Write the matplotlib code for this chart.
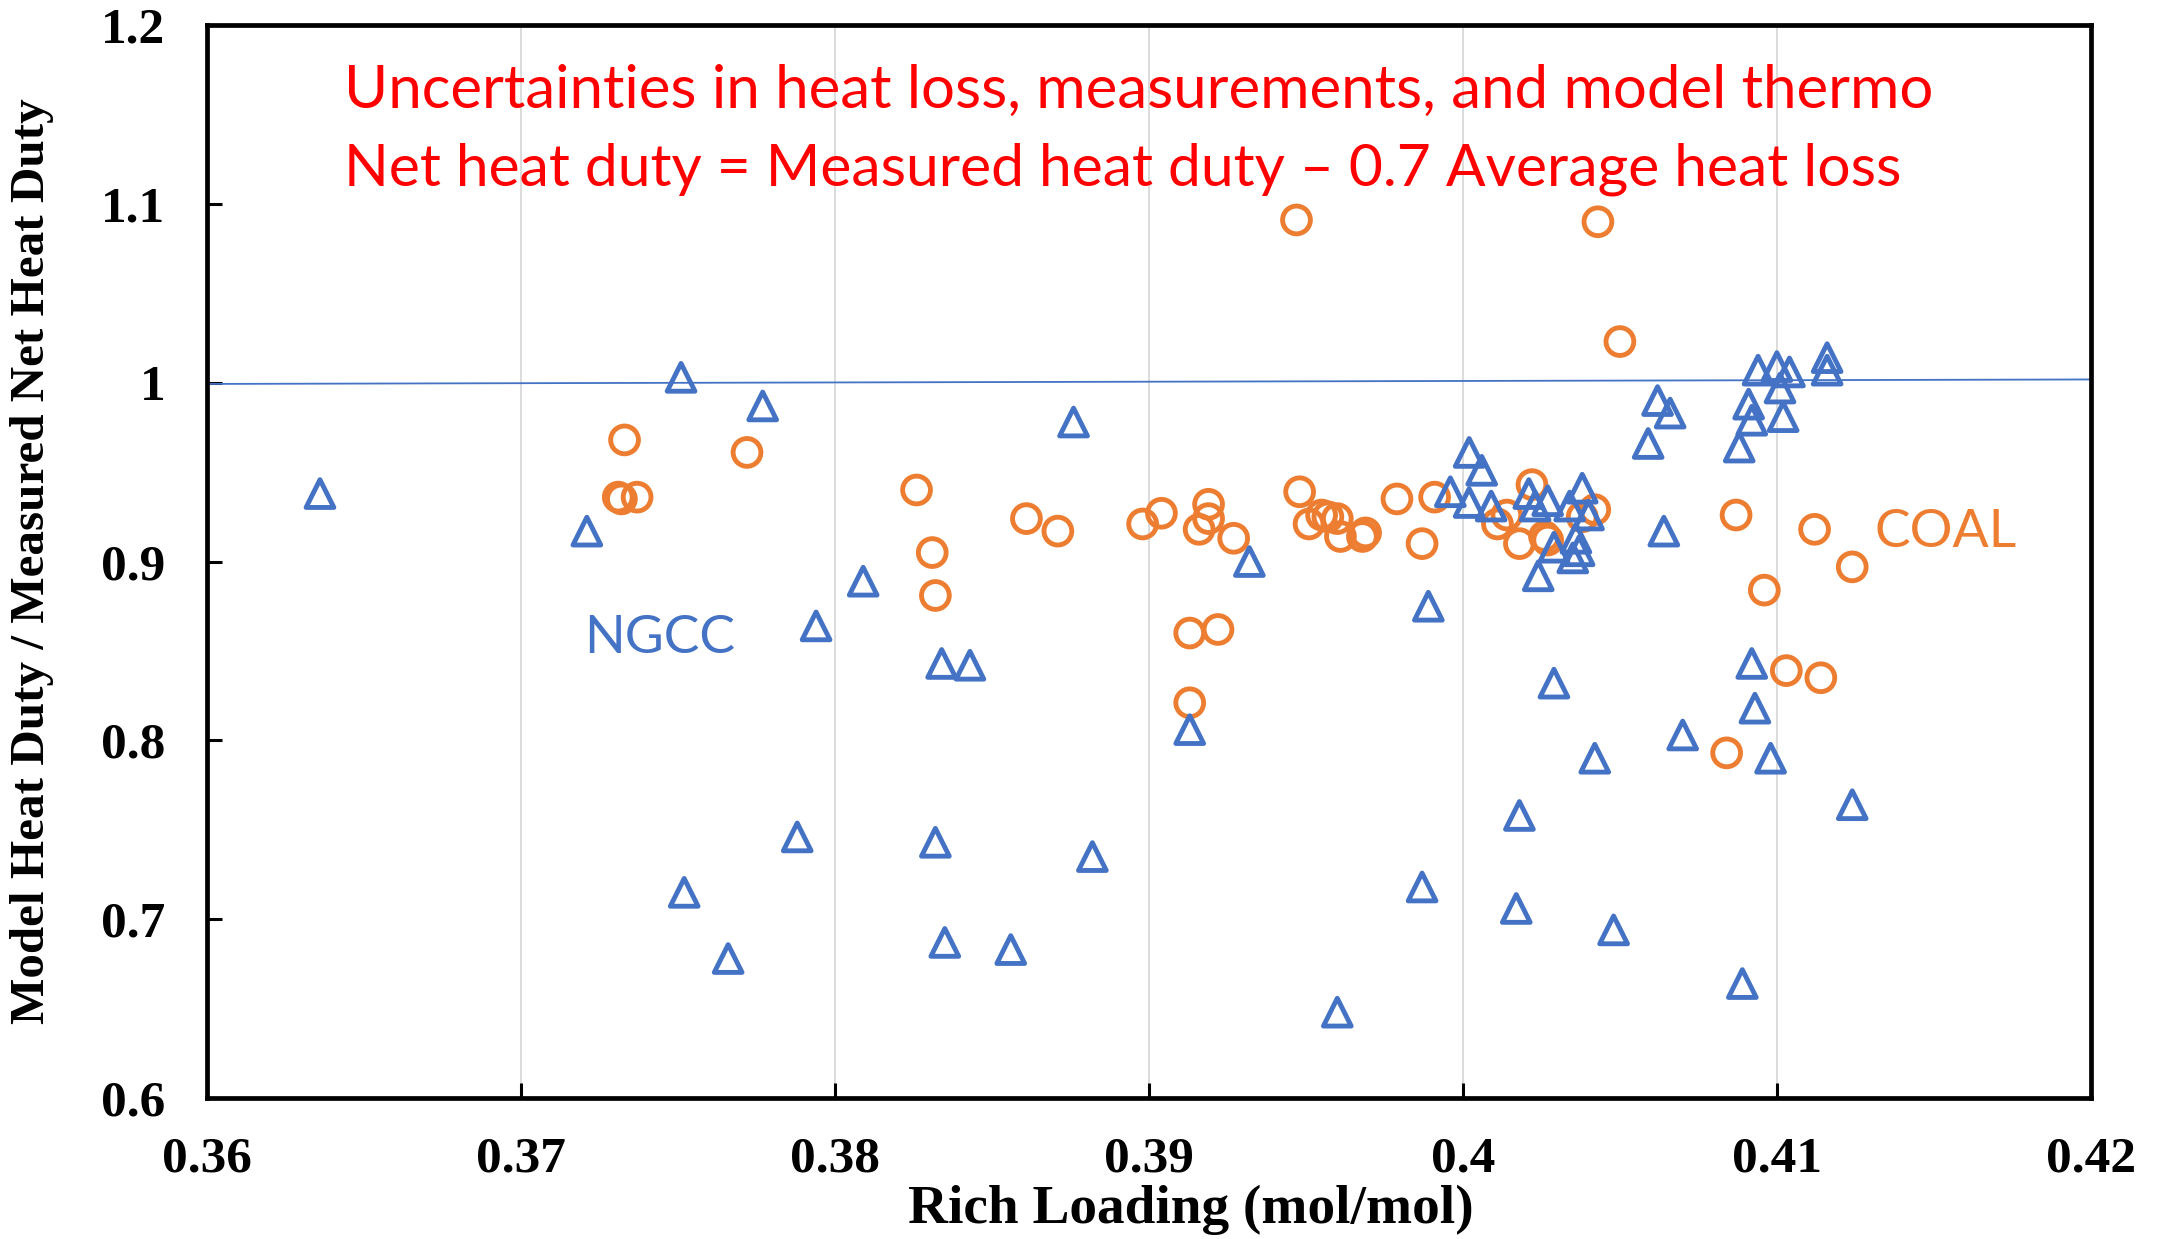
import numpy as np
import matplotlib
matplotlib.use('Agg')
import matplotlib.pyplot as plt
from matplotlib.ticker import FuncFormatter, MultipleLocator

# NGCC campaign points (rich loading, model / measured net heat duty)
ngcc_loading = [0.3636, 0.3721, 0.3751, 0.3752, 0.3766, 0.3777, 0.3788, 0.3794, 0.3809,
                0.3832, 0.3834, 0.3843, 0.3835, 0.3856, 0.3876, 0.3882, 0.3913, 0.3932,
                0.3960, 0.3987, 0.3989, 0.3996, 0.4002, 0.4006, 0.4002, 0.4009, 0.4021,
                0.4023, 0.4027, 0.4034, 0.4038, 0.4040, 0.4029, 0.4036, 0.4037, 0.4035,
                0.4024, 0.4029, 0.4018, 0.4017, 0.4042, 0.4048, 0.4059, 0.4062, 0.4066,
                0.4064, 0.4070, 0.4088, 0.4089, 0.4091, 0.4092, 0.4092, 0.4093, 0.4094,
                0.4100, 0.4101, 0.4102, 0.4104, 0.4098, 0.4116, 0.4116, 0.4124]
ngcc_ratio = [0.938, 0.917, 1.003, 0.715, 0.678, 0.987, 0.746, 0.864, 0.889,
              0.743, 0.843, 0.842, 0.687, 0.683, 0.978, 0.735, 0.806, 0.900,
              0.648, 0.718, 0.875, 0.939, 0.961, 0.951, 0.933, 0.931, 0.938,
              0.931, 0.934, 0.931, 0.941, 0.926, 0.908, 0.913, 0.906, 0.902,
              0.892, 0.832, 0.758, 0.706, 0.790, 0.694, 0.966, 0.990, 0.983,
              0.917, 0.803, 0.964, 0.664, 0.988, 0.979, 0.843, 0.818, 1.007,
              1.009, 0.997, 0.981, 1.006, 0.790, 1.014, 1.007, 0.764]

# coal campaign points
coal_loading = [0.3733, 0.3731, 0.3732, 0.3737, 0.3772, 0.3826, 0.3831, 0.3832, 0.3861,
                0.3871, 0.3898, 0.3904, 0.3919, 0.3919, 0.3916, 0.3927, 0.3913, 0.3922,
                0.3913, 0.3947, 0.3948, 0.3951, 0.3955, 0.3957, 0.3960, 0.3961, 0.3968,
                0.3969, 0.3979, 0.3991, 0.3987, 0.4022, 0.4014, 0.4011, 0.4018, 0.4026,
                0.4027, 0.4038, 0.4042, 0.4043, 0.4050, 0.4087, 0.4112, 0.4124, 0.4096,
                0.4103, 0.4114, 0.4084]
coal_ratio = [0.968, 0.936, 0.935, 0.936, 0.961, 0.940, 0.905, 0.881, 0.924,
              0.917, 0.921, 0.927, 0.932, 0.924, 0.918, 0.913, 0.860, 0.862,
              0.821, 1.091, 0.939, 0.921, 0.926, 0.925, 0.924, 0.914, 0.914,
              0.916, 0.935, 0.936, 0.910, 0.943, 0.926, 0.921, 0.910, 0.914,
              0.912, 0.925, 0.929, 1.090, 1.023, 0.926, 0.918, 0.897, 0.884,
              0.839, 0.835, 0.793]

# parity line (Excel linear line, very slightly sloped)
parity_x = [0.36, 0.42]
parity_y = [0.9993, 1.0018]

blue = '#4472C4'
orange = '#ED7D31'
serif = 'Liberation Serif'

fig = plt.figure(figsize=(21.6, 12.39), dpi=100)
ax = fig.add_axes([0.0958, 0.1138, 0.8722, 0.866])

ax.plot(parity_x, parity_y, color=blue, lw=1.3, zorder=2)
ax.scatter(coal_loading, coal_ratio, s=20**2, marker='o', facecolors='none',
           edgecolors=orange, linewidths=3.5, zorder=3)
ax.scatter(ngcc_loading, ngcc_ratio, s=20**2, marker='^', facecolors='none',
           edgecolors=blue, linewidths=3.5, zorder=4)

ax.set_xlim(0.36, 0.42)
ax.set_ylim(0.6, 1.2)
ax.xaxis.set_major_locator(MultipleLocator(0.01))
ax.yaxis.set_major_locator(MultipleLocator(0.1))
fmt = FuncFormatter(lambda v, p: '{:g}'.format(round(v, 2)))
ax.xaxis.set_major_formatter(fmt)
ax.yaxis.set_major_formatter(fmt)
ax.grid(axis='x', color='#D9D9D9', lw=1.3)
ax.set_axisbelow(True)

for s in ax.spines.values():
    s.set_linewidth(3.4)
ax.tick_params(direction='in', length=11, width=2.2, labelsize=37)
ax.tick_params(axis='x', pad=28)
ax.tick_params(axis='y', pad=30)
for lab in ax.get_xticklabels() + ax.get_yticklabels():
    lab.set_fontfamily(serif)
    lab.set_fontweight('bold')

ax.set_xlabel('Rich Loading (mol/mol)', fontsize=39.8, fontfamily=serif, fontweight='bold')
ax.xaxis.set_label_coords(0.522, -0.081)
ax.set_ylabel('Model Heat Duty / Measured Net Heat Duty', fontsize=35.4,
              fontfamily=serif, fontweight='bold')
ax.yaxis.set_label_coords(-0.081, 0.5)

ax.text(0.36436, 1.1536, 'Uncertainties in heat loss, measurements, and model thermo',
        color='red', fontsize=43.2, fontfamily='Lato', va='baseline')
ax.text(0.36436, 1.1105, 'Net heat duty = Measured heat duty \u2013 0.7 Average heat loss',
        color='red', fontsize=42.3, fontfamily='Lato', va='baseline')
ax.text(0.3720, 0.8487, 'NGCC', color=blue, fontsize=38.5, fontfamily='Lato', va='baseline')
ax.text(0.4131, 0.9083, 'COAL', color=orange, fontsize=38.5, fontfamily='Lato', va='baseline')

plt.savefig('out.png', dpi=100)
